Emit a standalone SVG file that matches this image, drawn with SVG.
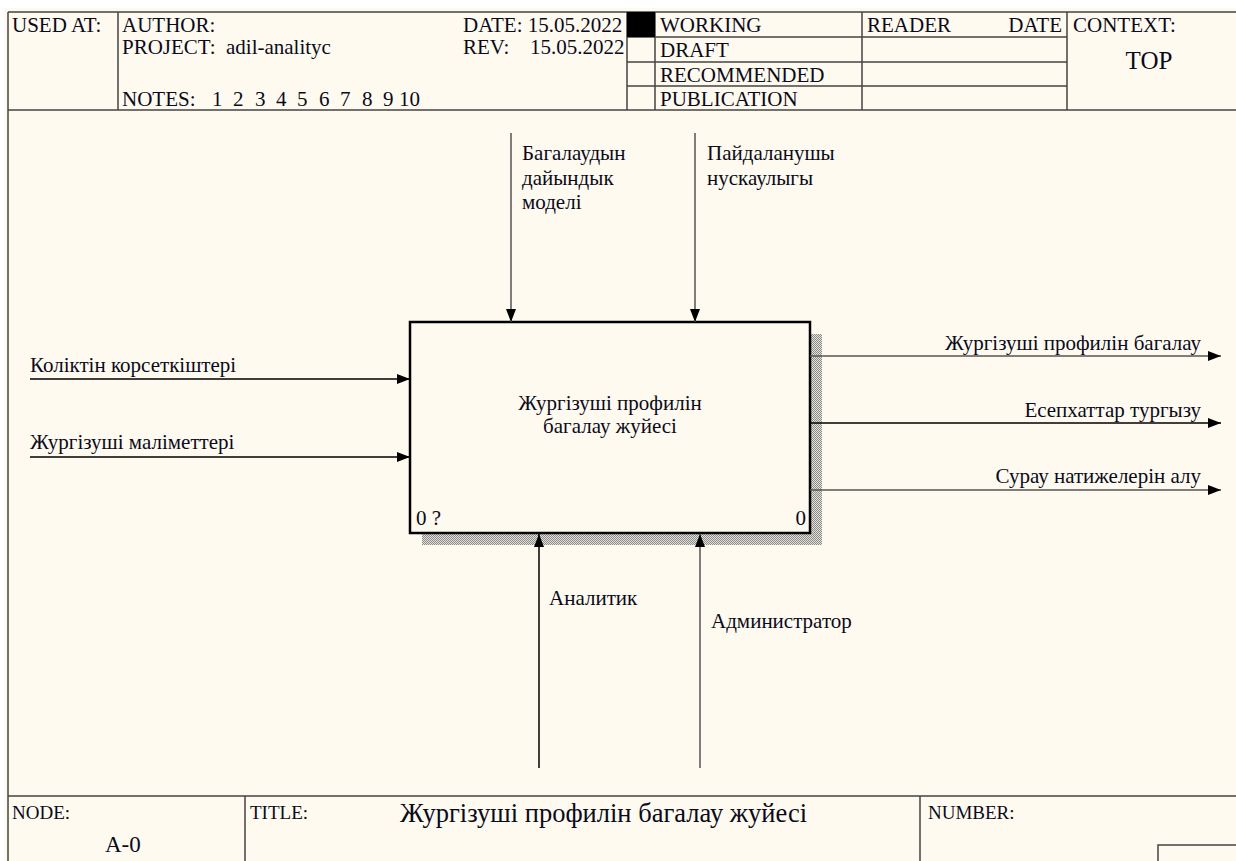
<svg xmlns="http://www.w3.org/2000/svg" width="1236" height="861" viewBox="0 0 1236 861">
<style>
.t{font-family:"Liberation Serif","Times New Roman",serif;fill:#0a0a1a}
.h{font-size:21px}
.l{font-size:21px}
.s{font-size:19px}
.fr{stroke:#444;stroke-width:1.5;fill:none}
.cg{stroke:#555;stroke-width:1.5;fill:none;marker-end:url(#ag)}
.cb{stroke:#000;stroke-width:1.5;fill:none;marker-end:url(#ab)}
</style>
<defs>
<marker id="ab" markerUnits="userSpaceOnUse" markerWidth="13" markerHeight="10" refX="13" refY="5" orient="auto"><path d="M0,0 L13,5 L0,10 z" fill="#000"/></marker>
<marker id="ag" markerUnits="userSpaceOnUse" markerWidth="13" markerHeight="10" refX="13" refY="5" orient="auto"><path d="M0,0 L13,5 L0,10 z" fill="#000"/></marker>
<pattern id="chk" width="2" height="2" patternUnits="userSpaceOnUse"><rect width="2" height="2" fill="#e4e1d9"/><rect width="1" height="1" fill="#8a8a8a"/><rect x="1" y="1" width="1" height="1" fill="#8a8a8a"/></pattern>
</defs>
<rect width="1236" height="861" fill="#ffffff"/>
<rect x="4" y="8" width="1232" height="853" fill="#fefaef"/>

<g id="frame">
<path class="fr" d="M8,12 H1236 M8,110 H1236 M8,12 V861 M118,12 V110 M627,12 V110 M655,12 V110 M862,12 V110 M1067,12 V110 M627,37 H1067 M627,62 H1067 M627,86 H1067"/>
<rect x="627" y="12" width="28" height="25" fill="#000"/>
<path class="fr" d="M8,796 H1236 M245,796 V861 M920,796 V861 M1158,861 V845 H1236"/>
<text class="t h" x="12" y="32">USED AT:</text>
<text class="t h" x="122" y="32">AUTHOR:</text>
<text class="t h" x="122" y="54" xml:space="preserve">PROJECT:  adil-analityc</text>
<text class="t h" x="122" y="106">NOTES:</text>
<text class="t h" y="106"><tspan x="212">1</tspan><tspan x="233">2</tspan><tspan x="255">3</tspan><tspan x="276">4</tspan><tspan x="297">5</tspan><tspan x="319">6</tspan><tspan x="340">7</tspan><tspan x="362">8</tspan><tspan x="383">9</tspan><tspan x="399">10</tspan></text>
<text class="t h" x="463" y="32">DATE: 15.05.2022</text>
<text class="t h" x="463" y="54">REV:</text>
<text class="t h" x="530" y="54">15.05.2022</text>
<text class="t h" x="660" y="32">WORKING</text>
<text class="t h" x="660" y="57">DRAFT</text>
<text class="t h" x="660" y="82">RECOMMENDED</text>
<text class="t h" x="660" y="106">PUBLICATION</text>
<text class="t h" x="867" y="32">READER</text>
<text class="t h" x="1062" y="32" text-anchor="end">DATE</text>
<text class="t h" x="1073" y="32">CONTEXT:</text>
<text class="t" x="1149" y="69" font-size="25" text-anchor="middle">TOP</text>
<text class="t s" x="12" y="819">NODE:</text>
<text class="t" x="105" y="852" font-size="23">A-0</text>
<text class="t s" x="250" y="819">TITLE:</text>
<text class="t" x="400" y="822" font-size="26.5">Жургізуші профилін багалау жуйесі</text>
<text class="t s" x="928" y="819">NUMBER:</text>
</g>

<g id="node-A0">
<rect x="422" y="334" width="400" height="211" fill="url(#chk)"/>
<rect x="410" y="322" width="400" height="211" fill="#fefaef" stroke="#000" stroke-width="2.5"/>
<text class="t l" x="610" y="410" text-anchor="middle">Жургізуші профилін</text>
<text class="t l" x="610" y="433" text-anchor="middle">багалау жуйесі</text>
<text class="t l" x="416" y="525">0 ?</text>
<text class="t l" x="806" y="525" text-anchor="end">0</text>
</g>

<g id="connectors">
<path class="cg" d="M511,133 V322"/>
<path class="cg" d="M695,133 V322"/>
<path class="cb" d="M30,379 H410"/>
<path class="cb" d="M30,457 H410"/>
<path class="cg" d="M810,356 H1221"/>
<path class="cb" d="M810,423 H1221"/>
<path class="cg" d="M810,490 H1221"/>
<path class="cb" d="M539,768 V534"/>
<path class="cg" d="M700,768 V534"/>
</g>

<g id="labels">
<text class="t l" x="522" y="160">Багалаудын</text>
<text class="t l" x="522" y="185">дайындык</text>
<text class="t l" x="522" y="209">моделі</text>
<text class="t l" x="707" y="160">Пайдаланушы</text>
<text class="t l" x="707" y="185">нускаулыгы</text>
<text class="t l" x="30" y="372">Коліктін корсеткіштері</text>
<text class="t l" x="30" y="449">Жургізуші маліметтері</text>
<text class="t l" x="1201" y="350" text-anchor="end">Жургізуші профилін багалау</text>
<text class="t l" x="1201" y="417" text-anchor="end">Есепхаттар тургызу</text>
<text class="t l" x="1201" y="483" text-anchor="end">Сурау натижелерін алу</text>
<text class="t l" x="549" y="605">Аналитик</text>
<text class="t l" x="711" y="628">Администратор</text>
</g>
</svg>
